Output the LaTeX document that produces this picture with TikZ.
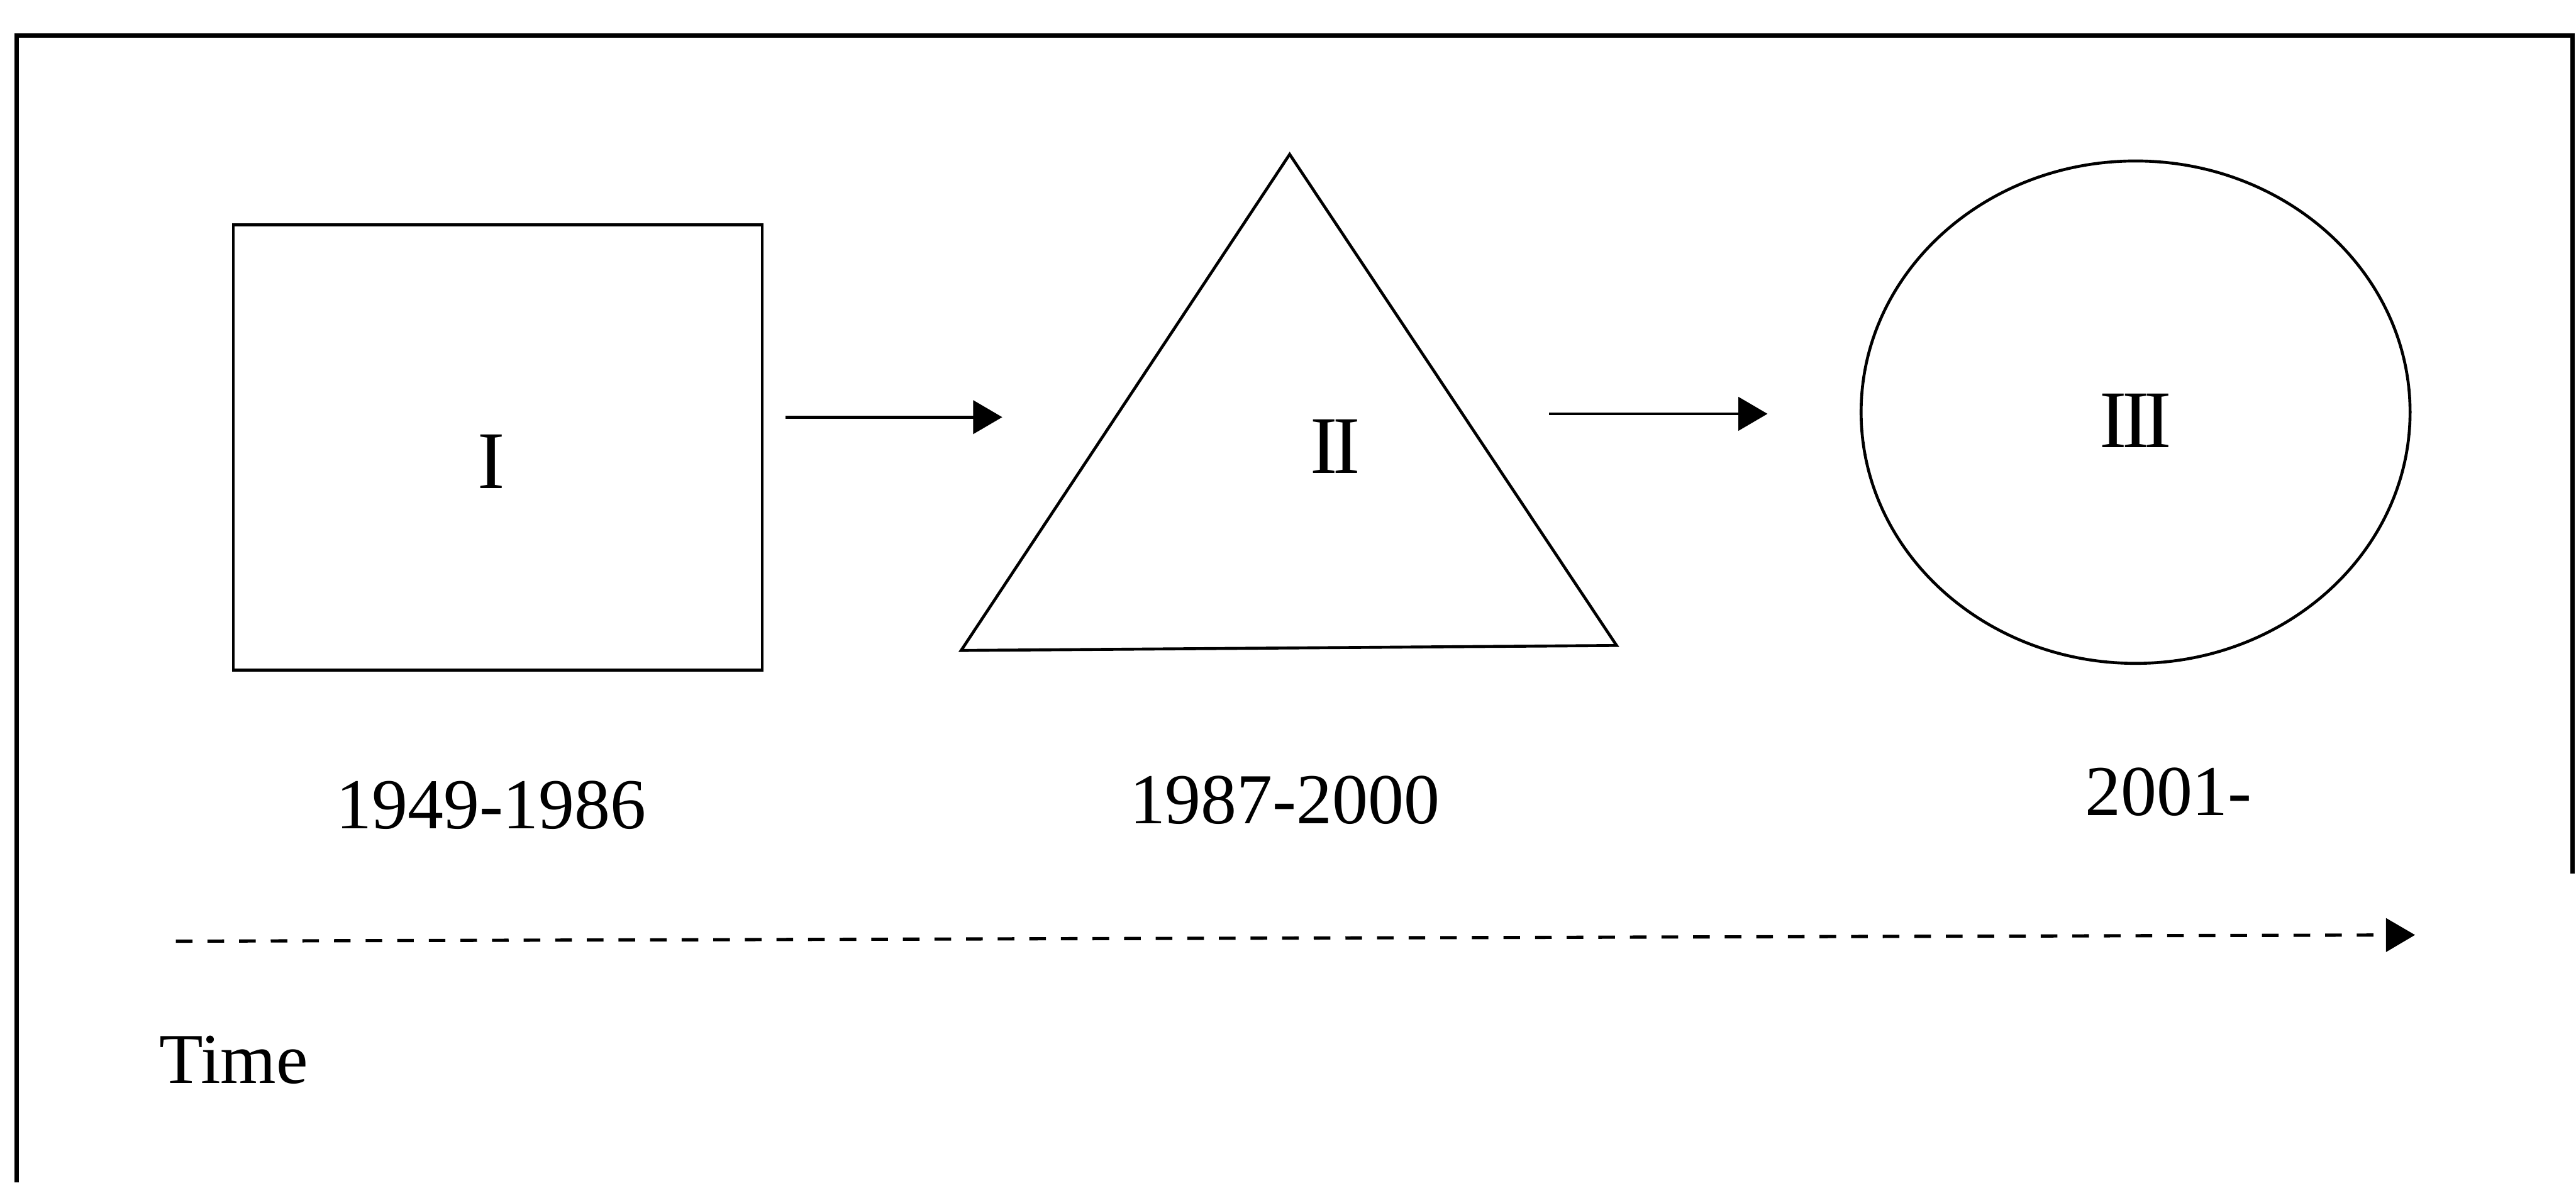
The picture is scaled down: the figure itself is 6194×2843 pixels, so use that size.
\documentclass[tikz,border=0pt]{standalone}
\usepackage{fontspec}
\setmainfont{Liberation Serif}
\usetikzlibrary{arrows.meta,shapes.geometric}
\begin{document}
\begin{tikzpicture}[x=0.1mm,y=-0.1mm,
  shapeline/.style={draw=black,line width=2pt},
  flowarrow/.style={draw=black,line width=2pt,-{Triangle[length=7mm,width=8mm]}},
  timearrow/.style={draw=black,line width=2.2pt,dash pattern=on 4mm off 3.6mm,-{Triangle[length=7mm,width=8mm]}},
  numeral/.style={font=\fontsize{56}{60}\selectfont,inner sep=0pt},
  yearlabel/.style={font=\fontsize{49}{58}\selectfont,inner sep=0pt},
  framestyle/.style={draw=black,line width=3pt}]
\useasboundingbox (0,0) rectangle (6194,2843);
% frame (open at the bottom, as cropped)
\coordinate (fbl) at (40,2843);
\coordinate (ftl) at (40,85);
\coordinate (ftr) at (6185,85);
\coordinate (fbr) at (6185,2100);
\draw[framestyle] (fbl) -- (ftl) -- (ftr) -- (fbr);
% stage I: square
\node[shapeline,rectangle,minimum width=127.2mm,minimum height=107.1mm,inner sep=0pt] (sq) at (1197,1076) {};
\node[numeral] (n1) at (1181,1110) {I};
% stage II: triangle
\coordinate (tA) at (3101,371);
\coordinate (tB) at (2311,1564);
\coordinate (tC) at (3887,1552);
\draw[shapeline,line join=miter] (tA) -- (tB) -- (tC) -- cycle;
\node[numeral] (n2) at (3211,1074) {I\kern-0.06em I};
% stage III: ellipse
\node[shapeline,ellipse,minimum width=132mm,minimum height=120.8mm,inner sep=0pt] (el) at (5135,991) {};
\node[numeral] (n3) at (5135,1011) {I\kern-0.06em I\kern-0.06em I};
% arrows between stages
\coordinate (a1s) at (1888,1003);
\coordinate (a1e) at (2410,1003);
\draw[flowarrow] (a1s) -- (a1e);
\coordinate (a2s) at (3725,995);
\coordinate (a2e) at (4250,995);
\draw[flowarrow] (a2s) -- (a2e);
% years
\node[yearlabel] (y1) at (1181,1936) {1949-1986};
\node[yearlabel] (y2) at (3089,1924) {1987-2000};
\node[yearlabel] (y3) at (5214,1904) {2001-};
% time axis
\coordinate (ts) at (423,2263);
\coordinate (te) at (5807,2248);
\draw[timearrow] (ts) -- (te);
\node[yearlabel,anchor=west] (time) at (383,2548) {Time};
\end{tikzpicture}
\end{document}
